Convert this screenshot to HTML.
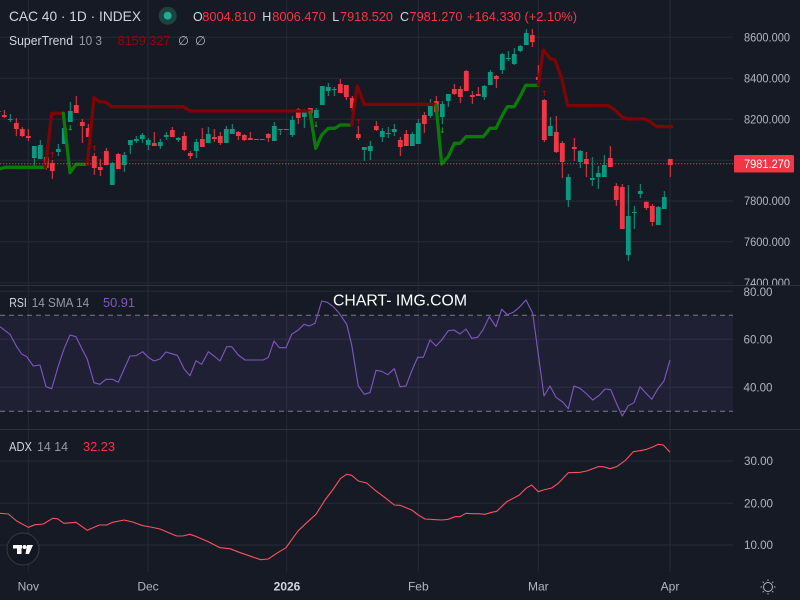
<!DOCTYPE html>
<html>
<head>
<meta charset="utf-8">
<style>
html,body{margin:0;padding:0;background:#161a25;}
svg{display:block;}
text{font-family:"Liberation Sans",sans-serif;}
</style>
</head>
<body>
<svg width="800" height="600" viewBox="0 0 800 600" xmlns="http://www.w3.org/2000/svg">
<defs>
<clipPath id="mainclip"><rect x="0" y="0" width="733" height="285"/></clipPath>
<clipPath id="axclip"><rect x="733" y="0" width="67" height="285"/></clipPath>
</defs>
<rect x="0" y="0" width="800" height="600" fill="#161a25"/>

<!-- vertical grid -->
<g stroke="#262a36" stroke-width="1">
<path d="M28.3 0V572M148 0V572M286.7 0V572M418.3 0V572M538.3 0V572M670 0V572"/>
<path d="M0 37.3H733M0 78.3H733M0 119.3H733M0 160.3H733M0 201H733M0 241.7H733M0 282.7H733"/>
<path d="M0 291.3H733M0 339.3H733M0 387.3H733"/>
<path d="M0 461H733M0 503.3H733M0 545H733"/>
</g>

<path d="M0 285.5H800M0 429.5H800" stroke="#2e323e" stroke-width="1"/>

<rect x="0" y="315.3" width="733" height="96" fill="rgba(126,87,194,0.1)"/>
<path d="M0 315.3H733M0 411.3H733" stroke="#787b86" stroke-width="1" stroke-dasharray="5 4"/>

<g clip-path="url(#mainclip)">
<path fill="none" stroke="#089981" stroke-width="1" d="M-1.7 110V113M10.3 114V122M34.3 146V167M40.3 140V159M58.3 144V156M64.3 125V144M70.3 102V122M112.3 162V185M124.3 152V172M130.3 140V154M136.3 136V143M142.3 133V143M148.3 138V150M160.3 139V149M166.3 132V140M178.3 137V142M196.3 139V158M208.3 127V143M226.3 126V143M232.3 124V134M256.3 139V140M262.3 139V140M274.3 122V141M280.3 129V135M286.3 129V130M292.3 116V137M304.3 109V128M316.3 108V118M322.3 86V105M328.3 83V96M334.3 87V96M364.3 147V161M370.3 141V160M382.3 128V142M388.3 127V138M394.3 124V136M412.3 132V146M418.3 119V144M430.3 99V118M442.3 101V124M448.3 94V107M484.3 85V100M490.3 70V85M502.3 53V74M508.3 51V61M514.3 48V65M520.3 45V52M526.3 29V45M550.3 117V136M568.3 174V207M580.3 150V168M592.3 157V186M598.3 166V189M604.3 155V177M628.3 185V261M634.3 206V229M640.3 184V198M658.3 206V225M664.3 191V209"/>
<path fill="none" stroke="#089981" stroke-width="4.8" d="M-1.7 111V112M10.3 119V120M34.3 146V158M40.3 145V159M58.3 149V152M64.3 128V144M70.3 111V122M112.3 163V185M124.3 155V165M130.3 140V145M136.3 139V141M142.3 135V139M148.3 140V145M160.3 142V146M166.3 135V137M178.3 138V140M196.3 142V151M208.3 134V143M226.3 129V143M232.3 129V134M256.3 139V140M262.3 139V140M274.3 126V141M280.3 129V130M286.3 129V130M292.3 120V135M304.3 111V117M316.3 110V118M322.3 86V105M328.3 87V91M334.3 89V90M364.3 147V150M370.3 146V151M382.3 131V137M388.3 133V134M394.3 129V132M412.3 134V146M418.3 123V144M430.3 106V116M442.3 104V117M448.3 94V101M484.3 86V97M490.3 72V85M502.3 54V70M508.3 58V59M514.3 54V64M520.3 46V51M526.3 33V45M550.3 126V136M568.3 177V200M580.3 151V162M592.3 178V180M598.3 173V177M604.3 165V177M628.3 216V255M634.3 212V213M640.3 191V194M658.3 207V225M664.3 197V209"/>
<path fill="none" stroke="#f23645" stroke-width="1" d="M4.3 110V118M16.3 118V136M22.3 127V137M28.3 129V141M46.3 151V170M52.3 160V179M76.3 96V113M82.3 119V143M88.3 124V137M94.3 153V175M100.3 159V176M106.3 148V165M118.3 153V169M154.3 132V146M172.3 127V137M184.3 132V151M190.3 151V159M202.3 128V147M214.3 129V142M220.3 132V145M238.3 131V140M244.3 134V141M250.3 132V140M268.3 133V142M298.3 108V124M310.3 108V117M340.3 79V93M346.3 85V100M352.3 96V112M358.3 126V140M376.3 121V131M400.3 137V156M406.3 130V146M424.3 112V133M436.3 96V120M454.3 84V95M460.3 86V103M466.3 70V91M472.3 91V104M478.3 87V96M496.3 75V88M532.3 29V47M538.3 65V85M544.3 99V142M556.3 116V153M562.3 141V178M574.3 138V161M586.3 152V177M610.3 146V167M616.3 183V206M622.3 184V229M646.3 201V210M652.3 204V226M670.3 159V177"/>
<path fill="none" stroke="#f23645" stroke-width="4.8" d="M4.3 115V117M16.3 123V129M22.3 129V136M28.3 136V138M46.3 157V168M52.3 163V171M76.3 105V113M82.3 122V126M88.3 128V137M94.3 156V168M100.3 167V170M106.3 151V165M118.3 154V169M154.3 143V146M172.3 130V137M184.3 136V150M190.3 153V156M202.3 139V147M214.3 137V139M220.3 136V143M238.3 132V136M244.3 135V140M250.3 138V140M268.3 134V138M298.3 109V118M310.3 108V113M340.3 84V93M346.3 85V97M352.3 98V108M358.3 134V138M376.3 126V130M400.3 140V147M406.3 134V146M424.3 115V124M436.3 101V112M454.3 89V94M460.3 89V97M466.3 71V91M472.3 95V97M478.3 94V96M496.3 76V79M532.3 35V42M538.3 77V80M544.3 100V140M556.3 132V152M562.3 143V162M574.3 147V149M586.3 159V164M610.3 158V167M616.3 186V200M622.3 187V229M646.3 202V208M652.3 206V222M670.3 159V165"/>

<g fill="none" stroke-width="3.3" stroke-linejoin="round" stroke-linecap="round">
<polyline stroke="#0b7a0b" points="-2,169.3 5,167.3 44,167.3"/>
<polyline stroke="#7d0505" points="45.5,167 51.7,113.3 63.3,113.3"/>
<polyline stroke="#0b7a0b" points="63.3,113.3 70,172.7 76,164.3 87.3,164.3"/>
<polyline stroke="#7d0505" points="87.3,164.3 94,97.7 99.3,101.7 106,102.3 111.7,106.7 183.3,106.7 190,111 310,111"/>
<polyline stroke="#0b7a0b" points="310,112 315.7,148.3 321.7,135 328.3,128.3 335,128.3 340,125 351.7,125"/>
<polyline stroke="#7d0505" points="351.7,125 357.3,86 364.3,104.3 435,104.3"/>
<polyline stroke="#0b7a0b" points="436,105 441.7,164 448.3,156.7 454.3,143.3 460,143.3 466,136.7 483.3,136.7 490,128.3 496,128.3 501.7,116.7 507.3,106.7 514.3,106.7 520,96.7 525.7,85.3 538.3,85.3"/>
<polyline stroke="#7d0505" points="538.3,85 543.3,50 550,58.3 555,60 561.7,78.3 567.7,105.7 608.3,105.7 615,110 621.7,116.7 626.7,119 645,119 650,121.7 656.7,126.7 671.7,126.7"/>
</g>
<g stroke-width="1" fill="none">
<path stroke="#b00000" d="M52.3 152V158M50.8 153H53.8M94.3 145.5V151M92.8 146.5H95.8M358.3 119V124.5M356.8 120H359.8M544.3 90.5V96M542.8 91.5H545.8"/>
<path stroke="#15a015" d="M70.3 125V130.5M68.8 129.5H71.8M316 121.5V127M314.5 126H317.5M442.3 127.5V133M440.8 132H443.8"/>
</g>

<path d="M0 163.8H733" stroke="#f23645" stroke-width="1" stroke-dasharray="1.3 1.7"/>
</g>

<polyline fill="none" stroke="#7e57c2" stroke-width="1.1" stroke-linejoin="round" points="0,326.7 10,334.3 16.7,346.7 21.7,354 26.7,356.7 33.3,366 40,365 46,386.7 51.7,388.7 58.3,366 64.3,348.3 70,335 76,336.7 81.7,348.3 87.3,359.3 94,382.7 100,384.3 106,379.3 112.7,379.3 118.3,382.3 124,369.3 130,356 136,355.7 142.7,351.7 148.3,357.3 154,361 160,359 166,352 171.7,353.7 177.3,355.3 184.3,369.3 190,375.7 196,360.7 201.7,364.3 208.3,351.7 214,356 220,361 226.7,346.7 231.7,346.7 238.3,355 245,360 263.3,360 268.3,357.3 274,341 279.3,347.7 286,347.7 291.7,334.3 298.3,330 304,324.3 309.3,326 315,323.3 321.7,301 327.3,302.3 333.3,306.7 339.3,313.3 346.7,324.3 351.7,345 358.3,386 364.3,394.3 370,392.7 376,370.3 381.7,371.3 387.7,374.7 394.3,368.7 400,386.7 406,386 411.7,371 417.7,357.3 423.3,357.3 430,340 436,346 441.7,340 448.3,330.7 454,330 460,334 466,329 471.7,338.3 477.7,337.3 483.3,329.3 489.3,316.7 496,326.7 501.7,309.3 507.3,314.7 513.3,312.3 519.3,307.3 526,300 532.7,313.3 544,396 550,386 556,397.3 562.7,402 568.3,408.7 574,386 580,388.3 586.7,394 592.7,400 599.3,395.3 605,389 610.7,389.7 616.7,404 622.3,416 628.3,405.7 634,402.7 640,386.7 646,393.3 651.7,399.3 657.7,389 664,381 670,360"/>

<polyline fill="none" stroke="#f7525f" stroke-width="1.1" stroke-linejoin="round" points="0,513.3 8.3,514 16.7,521 28.3,527.3 35,524.7 43.3,524 52.7,518.3 57.3,518.7 64,523.3 76,522.3 87.3,530.3 99.3,525 106.7,525 112.7,522.3 124,520 132.7,522 142.7,525.7 150.7,527 160,529 169.3,533 176.7,536 182.7,536 190,534.3 196.7,536.7 208.3,541.7 220,547.7 230,548.7 239.3,552.3 250.7,556.3 260.7,559.7 268.3,559 276.7,553.3 286,547.7 292.7,538.3 298.3,530.7 306,523.3 316,514.3 325,500 333.3,489 340.7,478.3 346.7,474.3 351.7,475.3 358.3,481 366.7,483 376,491 383.3,496.3 394.3,505 400,505.3 411.7,510 418.3,515 425,519 436,519.7 441.7,520 448.3,519.3 455,516.7 460,516.7 466,513.3 471.7,513.7 478.3,513.7 485,514.3 491.7,512.3 496.7,511.3 506.7,501.7 513.3,498.3 519.3,495 526,488.3 531.7,485 538.3,491.7 543.3,490 551.7,488 558.3,483.3 568.3,472.7 580,472.3 586.7,471 598.3,466.7 603.3,466.7 610,468.7 616.7,466.7 625,460.7 633.3,451.7 640,450.7 646.7,449.3 653.3,446.7 658.3,444.3 663.3,445 670,452.3"/>

<g fill="#b2b5be" font-size="11.5" clip-path="url(#axclip)">
<text x="744" y="41.5" textLength="46" lengthAdjust="spacingAndGlyphs">8600.000</text>
<text x="744" y="82.5" textLength="46" lengthAdjust="spacingAndGlyphs">8400.000</text>
<text x="744" y="123.5" textLength="46" lengthAdjust="spacingAndGlyphs">8200.000</text>
<text x="744" y="205" textLength="46" lengthAdjust="spacingAndGlyphs">7800.000</text>
<text x="744" y="246" textLength="46" lengthAdjust="spacingAndGlyphs">7600.000</text>
<text x="744" y="287" textLength="46" lengthAdjust="spacingAndGlyphs">7400.000</text>
</g>
<rect x="734" y="155" width="60" height="17.5" rx="1.5" fill="#f23645"/>
<text x="744" y="168" fill="#ffffff" font-size="11.5" textLength="46" lengthAdjust="spacingAndGlyphs">7981.270</text>

<g fill="#b2b5be" font-size="11.5">
<text x="743.5" y="296" textLength="29" lengthAdjust="spacingAndGlyphs">80.00</text>
<text x="743.5" y="343.5" textLength="29" lengthAdjust="spacingAndGlyphs">60.00</text>
<text x="743.5" y="391.5" textLength="29" lengthAdjust="spacingAndGlyphs">40.00</text>
<text x="744" y="465" textLength="29" lengthAdjust="spacingAndGlyphs">30.00</text>
<text x="744" y="507.5" textLength="29" lengthAdjust="spacingAndGlyphs">20.00</text>
<text x="744" y="549" textLength="29" lengthAdjust="spacingAndGlyphs">10.00</text>
</g>

<g fill="#b2b5be" font-size="12" text-anchor="middle">
<text x="28.3" y="590.5">Nov</text>
<text x="148" y="590.5">Dec</text>
<text x="287" y="590.5" fill="#d1d4dc" font-weight="bold">2026</text>
<text x="418.3" y="590.5">Feb</text>
<text x="538.3" y="590.5">Mar</text>
<text x="670" y="590.5">Apr</text>
</g>
<g stroke="#b2b5be" stroke-width="1" fill="none">
<circle cx="768" cy="587" r="4.5"/>
<path d="M768 579.5V581M768 593V594.5M760.5 587H762M774 587H775.5M762.7 581.7L763.8 582.8M772.2 591.2L773.3 592.3M762.7 592.3L763.8 591.2M772.2 582.8L773.3 581.7"/>
</g>

<text x="9" y="21" fill="#d1d4dc" font-size="14" textLength="132" lengthAdjust="spacingAndGlyphs">CAC 40 · 1D · INDEX</text>
<circle cx="167.7" cy="15.7" r="9" fill="#1d433f"/>
<circle cx="167.7" cy="15.7" r="4" fill="#22ab94"/>
<g font-size="12.5">
<text x="193" y="21" fill="#d1d4dc">O</text>
<text x="202.3" y="21" fill="#f23645" textLength="53.4" lengthAdjust="spacingAndGlyphs">8004.810</text>
<text x="262.3" y="21" fill="#d1d4dc">H</text>
<text x="272.3" y="21" fill="#f23645" textLength="53.4" lengthAdjust="spacingAndGlyphs">8006.470</text>
<text x="332.3" y="21" fill="#d1d4dc">L</text>
<text x="340" y="21" fill="#f23645" textLength="53" lengthAdjust="spacingAndGlyphs">7918.520</text>
<text x="400" y="21" fill="#d1d4dc">C</text>
<text x="409.5" y="21" fill="#f23645" textLength="53" lengthAdjust="spacingAndGlyphs">7981.270</text>
<text x="467" y="21" fill="#f23645" textLength="110" lengthAdjust="spacingAndGlyphs">+164.330 (+2.10%)</text>
</g>
<g font-size="12.5">
<text x="9" y="45" fill="#d1d4dc" textLength="64" lengthAdjust="spacingAndGlyphs">SuperTrend</text>
<text x="79" y="45" fill="#9598a1" textLength="23" lengthAdjust="spacingAndGlyphs">10 3</text>
<text x="117.5" y="45" fill="#8a0a0a" textLength="53" lengthAdjust="spacingAndGlyphs">8159.327</text>
<text x="178" y="45" fill="#b2b5be">∅</text>
<text x="195" y="45" fill="#b2b5be">∅</text>
</g>

<g font-size="12.5">
<text x="9.3" y="307" fill="#d1d4dc" textLength="17.5" lengthAdjust="spacingAndGlyphs">RSI</text>
<text x="31.7" y="307" fill="#9598a1" textLength="57.5" lengthAdjust="spacingAndGlyphs">14 SMA 14</text>
<text x="103" y="307" fill="#7e57c2" textLength="32" lengthAdjust="spacingAndGlyphs">50.91</text>
</g>
<text x="333" y="305.7" fill="#ffffff" font-size="15.5" textLength="134" lengthAdjust="spacingAndGlyphs">CHART- IMG.COM</text>

<g font-size="12.5">
<text x="9" y="451" fill="#d1d4dc" textLength="23" lengthAdjust="spacingAndGlyphs">ADX</text>
<text x="37" y="451" fill="#9598a1" textLength="31" lengthAdjust="spacingAndGlyphs">14 14</text>
<text x="83" y="451" fill="#f23645" textLength="32" lengthAdjust="spacingAndGlyphs">32.23</text>
</g>

<circle cx="23" cy="549" r="16" fill="#131722" stroke="#363a45" stroke-width="1"/>
<g fill="#ffffff">
<rect x="13" y="545" width="9" height="3.5"/>
<rect x="17" y="545" width="4.5" height="9"/>
<circle cx="24.5" cy="547" r="2"/>
<polygon points="27,545 33,545 29,554 25.5,554"/>
</g>
</svg>
</body>
</html>
